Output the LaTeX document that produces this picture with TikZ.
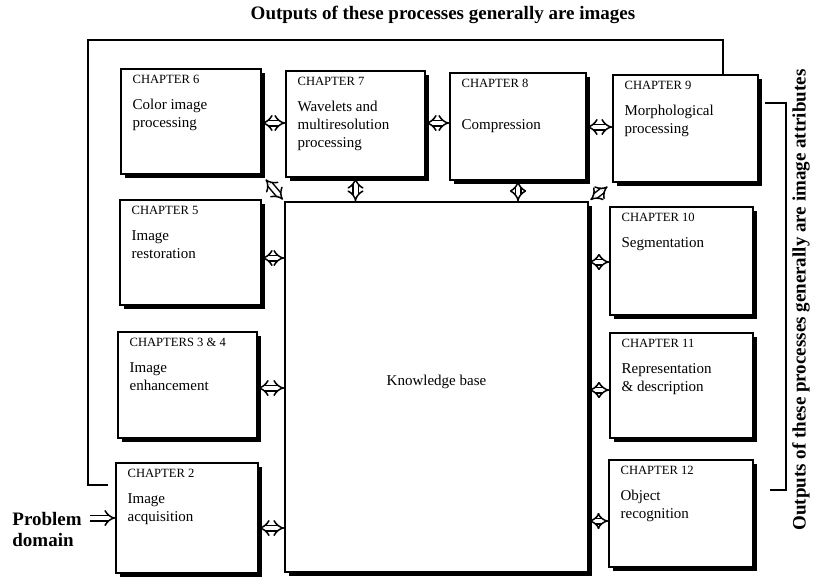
\documentclass[tikz,border=0pt]{standalone}
\usepackage{fontspec}
\setmainfont{Liberation Serif}
\usetikzlibrary{arrows.meta,positioning,calc,fit,shadows}

\tikzset{
  chapbox/.style={draw=black,line width=0.8pt,fill=white,inner sep=0pt,
                  drop shadow={shadow xshift=1.8pt,shadow yshift=-1.8pt,fill=black,opacity=1}},
  chaptext/.style={anchor=north west,align=left,inner xsep=6pt,inner ysep=3.5pt,
                   font=\fontsize{7.5}{9}\selectfont},
  dblarrow/.style={double,double distance=2pt,line width=0.75pt,{Implies[scale=1.25]}-{Implies[scale=1.25]}},
  sglarrow/.style={double,double distance=2pt,line width=0.75pt,-{Implies[scale=1.25]}},
  fbline/.style={line width=0.8pt},
  boldtitle/.style={font=\bfseries\fontsize{9.5}{10.5}\selectfont},
}
\newcommand{\chaphead}[1]{{\fontsize{6.3}{8}\selectfont #1}\\[4pt]}

\begin{document}
\begin{tikzpicture}[x=0.5pt,y=-0.5pt]
\useasboundingbox (0,0) rectangle (813,580);

% processing boxes
\node[chapbox,fit={(121,69)(261,174)}] (c6) {};
\node[chapbox,fit={(286,71)(425,177)}] (c7) {};
\node[chapbox,fit={(450,73)(586,180)}] (c8) {};
\node[chapbox,fit={(613,75)(758,182)}] (c9) {};
\node[chapbox,fit={(120,200)(261,305)}] (c5) {};
\node[chapbox,fit={(118,332)(257,438)}] (c34) {};
\node[chapbox,fit={(116,463)(258,573)}] (c2) {};
\node[chapbox,fit={(610,207)(753,315)}] (c10) {};
\node[chapbox,fit={(610,333)(753,438)}] (c11) {};
\node[chapbox,fit={(609,460)(753,567)}] (c12) {};
\node[chapbox,fit={(285,202)(588,572)}] (kb) {};

\node[chaptext] (c6t) at (c6.north west) {\chaphead{CHAPTER 6}Color image\\processing};
\node[chaptext] (c7t) at (c7.north west) {\chaphead{CHAPTER 7}Wavelets and\\multiresolution\\processing};
\node[chaptext] (c8t) at (c8.north west) {\chaphead{CHAPTER 8}\\[-1pt]Compression};
\node[chaptext] (c9t) at (c9.north west) {\chaphead{CHAPTER 9}Morphological\\processing};
\node[chaptext] (c5t) at (c5.north west) {\chaphead{CHAPTER 5}Image\\restoration};
\node[chaptext] (c34t) at (c34.north west) {\chaphead{CHAPTERS 3 \& 4}Image\\enhancement};
\node[chaptext] (c2t) at (c2.north west) {\chaphead{CHAPTER 2}Image\\acquisition};
\node[chaptext] (c10t) at (c10.north west) {\chaphead{CHAPTER 10}Segmentation};
\node[chaptext] (c11t) at (c11.north west) {\chaphead{CHAPTER 11}Representation\\\& description};
\node[chaptext] (c12t) at (c12.north west) {\chaphead{CHAPTER 12}Object\\recognition};
\node[font=\fontsize{7.5}{9}\selectfont] (kbt) at ([yshift=2.5pt]kb.center) {Knowledge base};

% outer labels
\node[boldtitle] (ttop) at (443,15) {Outputs of these processes generally are images};
\node[boldtitle,rotate=90] (tright) at (801,300) {Outputs of these processes generally are image attributes};
\node[boldtitle,align=left,anchor=west,inner sep=0pt] (pd) at (12,529) {Problem\\domain};

% feedback lines
\coordinate (fbR) at (723,40);
\coordinate (fbL) at (88,40);
\draw[fbline] (fbR |- c9.north) -- (fbR) -- (fbL) |- ([xshift=-3.5pt]c2.west |- 0,485);
\coordinate (brTop) at (786,103);
\coordinate (brBot) at (786,490);
\draw[fbline] ([xshift=3pt]c9.east |- brTop) -- (brTop) -- (brBot) -- ([xshift=8pt]c12.east |- brBot);

% arrows
\draw[sglarrow] ([xshift=4pt]pd.east |- c2.west) -- (c2.west);
\draw[dblarrow] (c6.east |- 0,123) -- (c7.west |- 0,123);
\draw[dblarrow] (c7.east |- 0,123) -- (c8.west |- 0,123);
\draw[dblarrow] (c8.east |- 0,127) -- (c9.west |- 0,127);
\draw[dblarrow] (c7.south) -- (c7.south |- kb.north);
\draw[dblarrow] (c8.south) -- (c8.south |- kb.north);
\draw[dblarrow,shorten <=3pt,shorten >=1pt] (c6.south east) -- (kb.north west);
\draw[dblarrow,shorten <=3pt,shorten >=1pt] (c9.south west) -- (kb.north east);
\draw[dblarrow] (c5.east |- 0,258) -- (kb.west |- 0,258);
\draw[dblarrow] (c34.east |- 0,388) -- (kb.west |- 0,388);
\draw[dblarrow] (c2.east |- 0,528) -- (kb.west |- 0,528);
\draw[dblarrow] (kb.east |- 0,262) -- (c10.west |- 0,262);
\draw[dblarrow] (kb.east |- 0,390) -- (c11.west |- 0,390);
\draw[dblarrow] (kb.east |- 0,521) -- (c12.west |- 0,521);
\end{tikzpicture}
\end{document}
